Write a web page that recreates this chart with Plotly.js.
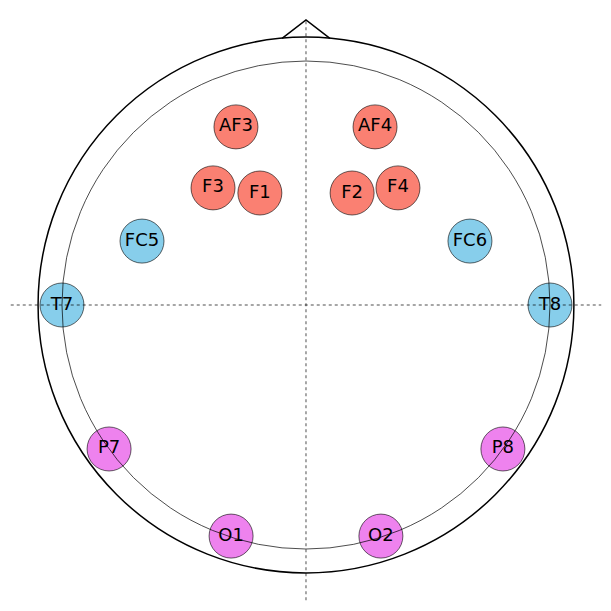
<!DOCTYPE html>
<html>
<head>
<meta charset="utf-8">
<script src="https://cdn.plot.ly/plotly-3.0.1.min.js"></script>
<style>html,body{margin:0;padding:0;background:#fff}</style>
</head>
<body>
<div id="chart" style="width:611px;height:611px"></div>
<script>
// electrode names and positions (unit = inner head circle radius)
const labels = ['AF3', 'AF4', 'F3', 'F1', 'F2', 'F4', 'FC5', 'FC6', 'T7', 'T8', 'P7', 'P8', 'O1', 'O2'];
const xs = [-0.287, 0.283, -0.381, -0.189, 0.189, 0.377, -0.672, 0.672, -1.0, 1.0, -0.807, 0.807, -0.307, 0.307];
const ys = [0.730, 0.730, 0.480, 0.459, 0.459, 0.480, 0.262, 0.262, 0.0, 0.0, -0.590, -0.590, -0.947, -0.947];
const groups = ['F', 'F', 'F', 'F', 'F', 'F', 'C', 'C', 'C', 'C', 'P', 'P', 'P', 'P'];
const groupColors = { F: '#FA8072', C: '#87CEEB', P: '#EE82EE' };

const R = 1.098;  // outer head outline

const trace = {
    x: xs,
    y: ys,
    text: labels,
    mode: 'markers+text',
    type: 'scatter',
    textposition: 'middle center',
    textfont: { family: 'DejaVu Sans', size: 18, color: '#000' },
    marker: {
        size: 44,
        color: groups.map(g => groupColors[g]),
        line: { color: '#000', width: 0.6 }
    },
    hoverinfo: 'text',
    cliponaxis: false
};

const layout = {
    width: 611,
    height: 611,
    margin: { l: 0, r: 0, t: 0, b: 0 },
    showlegend: false,
    paper_bgcolor: '#fff',
    plot_bgcolor: '#fff',
    xaxis: { range: [-1.254, 1.250], visible: false, fixedrange: true },
    yaxis: { range: [-1.254, 1.250], visible: false, fixedrange: true },
    shapes: [
        // crosshair
        { type: 'line', x0: -1.21, x1: 1.21, y0: 0, y1: 0, line: { color: '#000', width: 0.7, dash: 'dot' } },
        { type: 'line', x0: 0, x1: 0, y0: -1.21, y1: 1.17, line: { color: '#000', width: 0.7, dash: 'dot' } },
        // inner circle
        { type: 'circle', x0: -1, x1: 1, y0: -1, y1: 1, line: { color: '#000', width: 0.7 } },
        // outer head
        { type: 'circle', x0: -R, x1: R, y0: -R, y1: R, line: { color: '#000', width: 1.5 } },
        // nose
        { type: 'path', path: 'M -0.098 1.093 L 0 1.168 L 0.098 1.093', line: { color: '#000', width: 1.5 } }
    ]
};

Plotly.newPlot('chart', [trace], layout, { displayModeBar: false, staticPlot: true });
</script>
</body>
</html>
